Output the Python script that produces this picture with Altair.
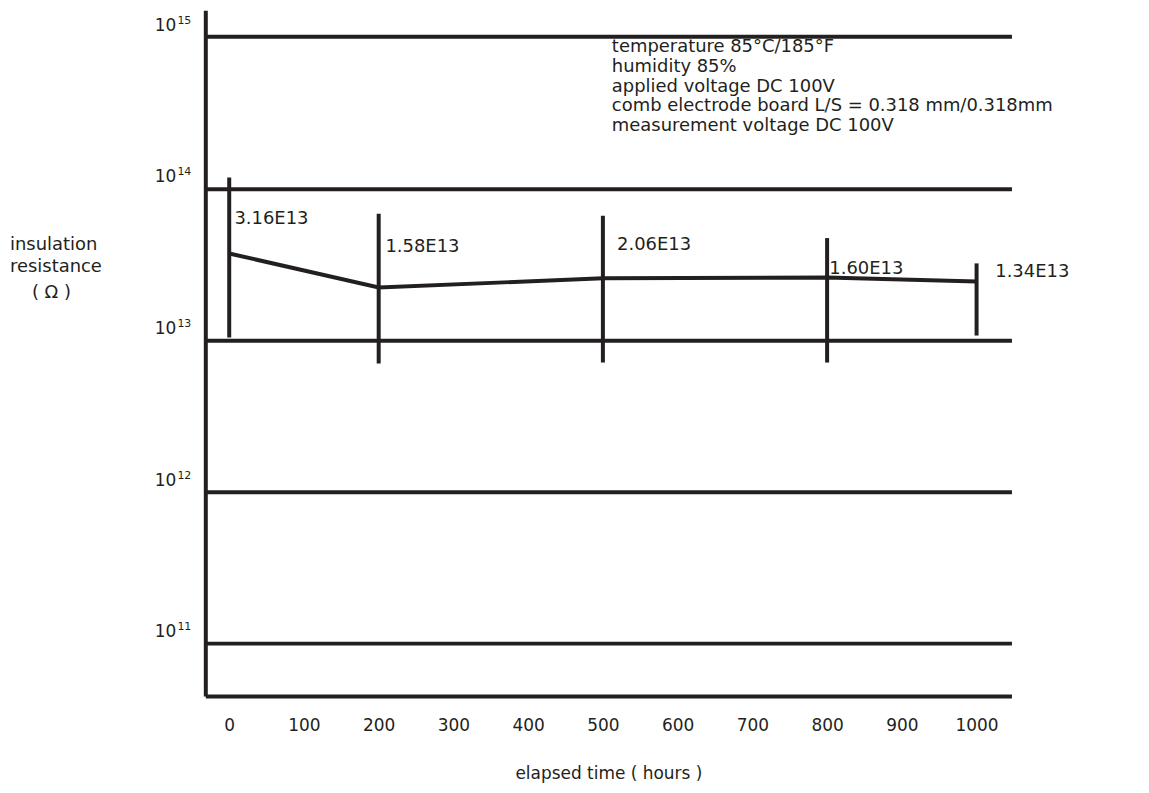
import altair as alt
import pandas as pd

INK = "#231f20"
FONT = "DejaVu Sans"

# measurement points
hours = [0, 200, 500, 800, 1000]
resistance = [3.72e13, 2.22e13, 2.55e13, 2.58e13, 2.43e13]
range_high = [1.18e14, 6.8e13, 6.6e13, 4.7e13, 3.2e13]
range_low = [1.04e13, 7.0e12, 7.1e12, 7.1e12, 1.07e13]

# value annotations
value_labels = ["3.16E13", "1.58E13", "2.06E13", "1.60E13", "1.34E13"]
label_hours = [7, 209, 519, 803, 1025]
label_levels = [6.3e13, 4.1e13, 4.2e13, 2.95e13, 2.8e13]

# axes
exponents = [11, 12, 13, 14, 15]
x_ticks = [0, 100, 200, 300, 400, 500, 600, 700, 800, 900, 1000]

conditions = [
    "temperature 85°C/185°F",
    "humidity 85%",
    "applied voltage DC 100V",
    "comb electrode board L/S = 0.318 mm/0.318mm",
    "measurement voltage DC 100V",
]

df = pd.DataFrame({
    "hours": hours,
    "resistance": resistance,
    "high": range_high,
    "low": range_low,
})
lab_df = pd.DataFrame({"hours": label_hours, "level": label_levels, "text": value_labels})
tick_df = pd.DataFrame({"exp": [str(e) for e in exponents], "level": [10.0 ** e for e in exponents]})

xscale = alt.Scale(domain=[-32, 1046.67], nice=False, zero=False)
yscale = alt.Scale(type="log", domain=[10 ** 10.653, 10 ** 15.1735], nice=False)

xaxis = alt.Axis(
    values=x_ticks, format="d", title="elapsed time ( hours )", grid=False, ticks=False,
    domainWidth=4, domainColor=INK, labelFont=FONT, labelFontSize=17, labelColor=INK,
    labelPadding=22, titleFont=FONT, titleFontSize=17, titleFontWeight="normal",
    titleColor=INK, titlePadding=32, labelFlush=False,
)
yaxis = alt.Axis(
    values=[10.0 ** e for e in exponents], labels=False, ticks=False, grid=True,
    gridWidth=4, gridColor=INK, gridOpacity=1, domainWidth=4, domainColor=INK, title=None,
)

def X(field):
    return alt.X(field, type="quantitative", scale=xscale, axis=xaxis)

def Y(field):
    return alt.Y(field, type="quantitative", scale=yscale, axis=yaxis)

bars = alt.Chart(df).mark_rule(color=INK, strokeWidth=4).encode(
    x=X("hours"), y=Y("low"), y2="high"
)
line = alt.Chart(df).mark_line(color=INK, strokeWidth=4).encode(
    x=X("hours"), y=Y("resistance")
)
labels = alt.Chart(lab_df).mark_text(
    align="left", baseline="middle", font=FONT, fontSize=18, color=INK
).encode(x=X("hours"), y=Y("level"), text="text:N")

tick_base = alt.Chart(tick_df).mark_text(
    align="right", baseline="middle", font=FONT, fontSize=17, color=INK, dy=-11
).encode(x=alt.value(-29), y=Y("level"), text=alt.value("10"))
tick_exp = alt.Chart(tick_df).mark_text(
    align="left", baseline="middle", font=FONT, fontSize=11, color=INK, dy=-16
).encode(x=alt.value(-28), y=Y("level"), text="exp:N")

ytitle1 = alt.Chart(pd.DataFrame({"t": [["insulation", "resistance"]]})).mark_text(
    align="left", baseline="top", font=FONT, fontSize=18, color=INK, lineHeight=23
).encode(x=alt.value(-196), y=alt.value(226), text="t")
ytitle2 = alt.Chart(pd.DataFrame({"t": ["( Ω )"]})).mark_text(
    align="left", baseline="middle", font=FONT, fontSize=18, color=INK
).encode(x=alt.value(-174), y=alt.value(284), text="t:N")

notes = alt.Chart(pd.DataFrame({"t": [conditions]})).mark_text(
    align="left", baseline="top", font=FONT, fontSize=18, color=INK, lineHeight=19.8
).encode(x=alt.value(408), y=alt.value(28), text="t")

chart = alt.layer(
    bars, line, labels, tick_base, tick_exp, ytitle1, ytitle2, notes
).properties(
    width=809, height=688,
    autosize=alt.AutoSizeParams(type="none"),
    padding={"left": 198, "top": 1, "right": 130, "bottom": 88},
).configure_view(stroke=None)

chart.save("out.html", embed_options={"renderer": "svg", "actions": False})
